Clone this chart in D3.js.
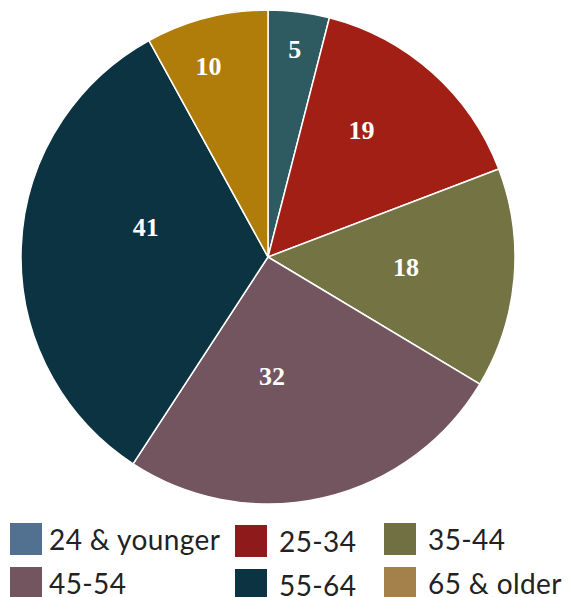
<!DOCTYPE html>
<html>
<head>
<meta charset="utf-8">
<script src="https://cdn.jsdelivr.net/npm/d3@7"></script>
<style>
  body { margin: 0; background: #fff; }
</style>
</head>
<body>
<div class="chart"></div>
<script>
// age groups and counts
var categories = ["24 & younger", "25-34", "35-44", "45-54", "55-64", "65 & older"];
var values = [5, 19, 18, 32, 41, 10];
var sliceColors = ["#2e5b61", "#a11f14", "#737343", "#72555f", "#0b3341", "#b07d0a"];
var legendColors = ["#52708f", "#8f1a1c", "#717043", "#72555f", "#0b3341", "#a4804b"];

// where the value label sits inside each slice: [fraction along the arc, fraction of radius]
var labelPlace = [[0.51, 0.85], [0.40, 0.64], [0.48, 0.56], [0.62, 0.48], [0.60, 0.51], [0.40, 0.81]];

var svgWidth = 569;
var svgHeight = 597;
var cx = 268, cy = 257, radius = 247;

var svg = d3.select(".chart")
  .append("svg")
  .attr("width", svgWidth)
  .attr("height", svgHeight);

var data = categories.map((c, i) => ({ name: c, value: values[i], i: i }));

var pie = d3.pie()
  .sort(null)
  .value(d => d.value);

var arc = d3.arc()
  .innerRadius(0)
  .outerRadius(radius);

var pieGroup = svg.append("g")
  .attr("transform", `translate(${cx}, ${cy})`);

var arcs = pie(data);

pieGroup.selectAll("path")
  .data(arcs)
  .enter()
  .append("path")
  .attr("d", arc)
  .attr("fill", d => sliceColors[d.data.i])
  .attr("stroke", "#fff")
  .attr("stroke-width", 1.5);

// value labels
pieGroup.selectAll("text")
  .data(arcs)
  .enter()
  .append("text")
  .attr("transform", function(d) {
    var p = labelPlace[d.data.i];
    var a = d.startAngle + (d.endAngle - d.startAngle) * p[0];
    var r = radius * p[1];
    return `translate(${r * Math.sin(a)}, ${-r * Math.cos(a)})`;
  })
  .attr("text-anchor", "middle")
  .attr("dy", "0.35em")
  .attr("font-family", "'Liberation Serif', 'DejaVu Serif', serif")
  .attr("font-weight", "bold")
  .attr("font-size", "26px")
  .attr("fill", "#fff")
  .text(d => d.data.value);

// legend, 3 columns x 2 rows (bottom row runs off the page like the original)
var colX = [10, 235, 384];
var rowY = [523, 567];
var sw = 32;

var legend = svg.selectAll(".legend")
  .data(data)
  .enter()
  .append("g")
  .attr("class", "legend")
  .attr("transform", d => `translate(${colX[d.i % 3]}, ${rowY[Math.floor(d.i / 3)] + (d.i % 3 === 1 ? 2 : 0)})`);

legend.append("rect")
  .attr("width", sw)
  .attr("height", sw)
  .attr("fill", d => legendColors[d.i]);

legend.append("text")
  .attr("x", d => d.i % 3 === 0 ? sw + 7 : sw + 12)
  .attr("y", 27)
  .attr("font-family", "Lato, 'Open Sans', sans-serif")
  .attr("font-size", "28px")
  .attr("letter-spacing", "0.4px")
  .attr("fill", "#222")
  .text(d => d.name);
</script>
</body>
</html>
